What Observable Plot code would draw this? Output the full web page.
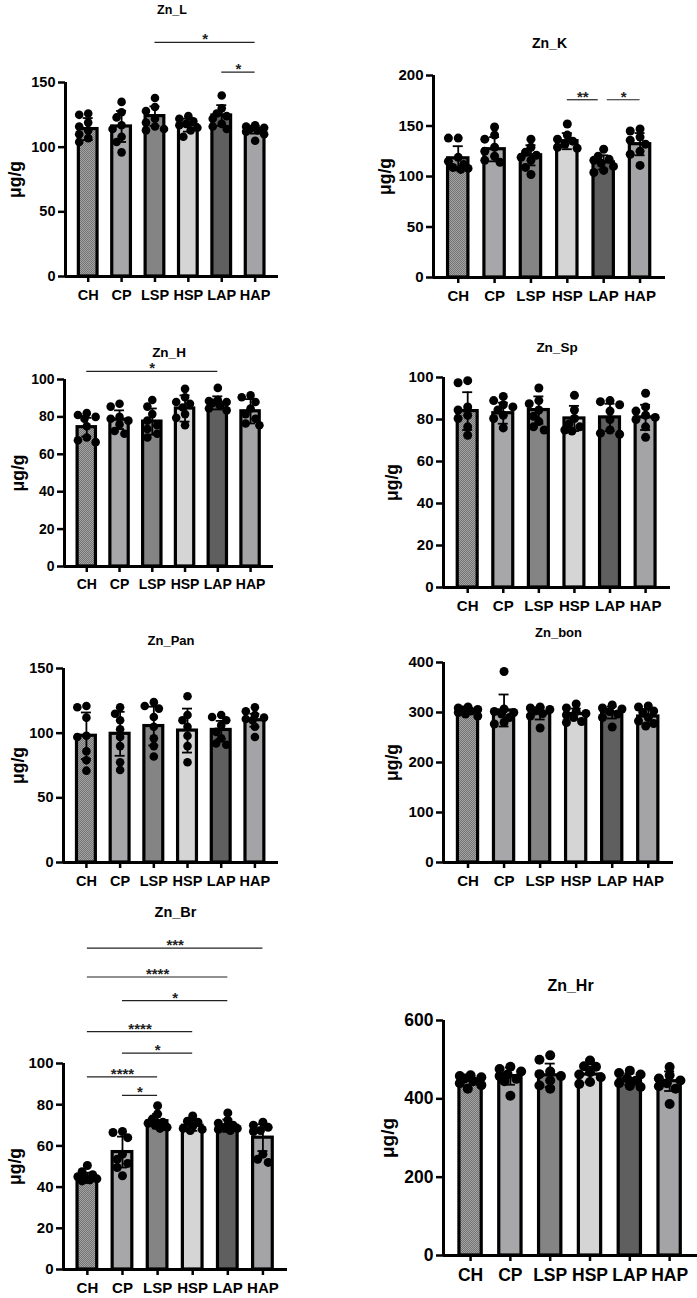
<!DOCTYPE html>
<html><head><meta charset="utf-8">
<script src="https://cdn.jsdelivr.net/npm/d3@7"></script>
<script src="https://cdn.jsdelivr.net/npm/@observablehq/plot@0.6"></script>
<style>
html,body{margin:0;padding:0;background:#fff;}
#root{position:relative;width:697px;height:1298px;overflow:hidden;background:#fff;}
g[aria-label="stars"] text{letter-spacing:2px;}
</style></head><body><div id="root"></div>
<script>
// ---------- data ----------
const groups = ["CH", "CP", "LSP", "HSP", "LAP", "HAP"];
const groupColors = ["PATTERN", "#a7a7aa", "#848484", "#d5d5d5", "#5f5f5f", "#a4a4a7"];
const units = "μg/g";
const titles = ["Zn_L", "Zn_K", "Zn_H", "Zn_Sp", "Zn_Pan", "Zn_bon", "Zn_Br", "Zn_Hr"];

const znL_mean = [114, 116, 124, 117, 124.5, 113.5];
const znL_sd = [8.5, 12, 7.5, 5, 8, 3];
const znL_points = [
  [126, 125, 119, 116, 113, 110, 107, 104],
  [135, 127, 123, 117, 114, 108, 104, 96],
  [138, 131, 128, 122, 119, 116, 114, 113],
  [124, 122, 120, 118, 117, 115, 113, 108],
  [140, 130, 126, 124, 122, 118, 116, 114],
  [117, 116, 115, 114, 113, 112, 110, 105]];
const znL_ticks = [0, 50, 100, 150];
const znL_brackets = [["LSP", "HAP", 181, "*"], ["LAP", "HAP", 158, "*"]];

const znK_mean = [118, 127, 121, 135, 114, 132];
const znK_sd = [12, 12, 10, 8, 7, 11];
const znK_points = [
  [138, 138, 119, 115, 112, 109, 108, 107],
  [149, 141, 137, 129, 125, 120, 116, 114],
  [137, 129, 124, 121, 119, 116, 109, 102],
  [152, 141, 137, 135, 132, 129, 128],
  [127, 120, 117, 116, 113, 110, 106, 104],
  [147, 145, 139, 136, 132, 125, 122, 111]];
const znK_ticks = [0, 50, 100, 150, 200];
const znK_brackets = [["HSP", "LAP", 176, "**"], ["LAP", "HAP", 176, "*"]];

const znH_mean = [74.5, 78.5, 77.5, 84.5, 87.5, 83];
const znH_sd = [5, 5, 7, 7, 3.5, 6.5];
const znH_points = [
  [82, 81, 80, 79, 75, 69, 67.5, 66.5],
  [87, 85.5, 80, 79, 78, 76, 72.5, 71],
  [89, 85.5, 81.5, 78, 75.5, 73.5, 71, 69],
  [95, 90.5, 88, 87, 85, 81.5, 79.5, 75.5],
  [95.5, 89, 88.5, 88, 87.5, 86, 84.5, 83.5],
  [91.5, 90.5, 88, 84.5, 81.5, 79, 76.5, 75.5]];
const znH_ticks = [0, 20, 40, 60, 80, 100];
const znH_brackets = [["CH", "LAP", 104.3, "*"]];

const znSp_mean = [84, 83, 84.5, 80.5, 81, 81];
const znSp_sd = [9, 5, 6.5, 6, 6.5, 6];
const znSp_points = [
  [98.5, 97.5, 86, 84.5, 82, 80.5, 76.5, 72.5],
  [91, 89, 87, 86, 84.5, 82, 80.5, 76],
  [95, 89, 87.5, 84.5, 81.5, 79, 76.5, 75],
  [91.5, 84.5, 80.5, 78, 76.5, 75, 74.5],
  [89, 88.5, 87, 84, 80, 75, 73.5, 73],
  [92.5, 86, 84, 82, 81, 80, 76.5, 71.5]];
const znSp_ticks = [0, 20, 40, 60, 80, 100];
const znSp_brackets = [];

const znPan_mean = [98, 99.5, 105.5, 102, 102.5, 110];
const znPan_sd = [18, 17, 15, 17, 7, 5];
const znPan_points = [
  [121, 120, 112, 98, 97, 86, 79, 71],
  [120, 115, 110, 103, 97, 90, 77.5, 71.5],
  [124, 121, 119, 112.5, 105, 96, 90, 82],
  [128.5, 114, 110, 105, 98, 90, 77.5],
  [114, 112.5, 110, 106, 101, 96, 92, 91],
  [120, 117, 114, 112, 111, 110, 105, 97]];
const znPan_ticks = [0, 50, 100, 150];
const znPan_brackets = [];

const znBon_mean = [302, 304, 298, 297, 300, 292];
const znBon_sd = [4, 32, 12, 11, 12, 14];
const znBon_points = [
  [311, 309, 306, 305, 303, 300, 297, 293],
  [382, 307, 302, 300, 297, 290, 280, 277],
  [311, 309, 306, 303, 298, 293, 269],
  [317, 309, 302, 298, 295, 290, 282, 280],
  [315, 309, 307, 302, 297, 290, 271],
  [313, 311, 303, 300, 290, 283, 278, 273]];
const znBon_ticks = [0, 100, 200, 300, 400];
const znBon_brackets = [];

const znBr_mean = [44.5, 57, 72, 69.8, 69.8, 64];
const znBr_sd = [2.5, 7.5, 3.5, 2.5, 3, 6.5];
const znBr_points = [
  [50.5, 47.5, 46, 45, 44.5, 44, 43.5, 43],
  [67, 66.5, 64, 56, 53.5, 51.5, 49.5, 45.5],
  [79.5, 75.5, 73, 71.5, 71, 70, 69, 68.5],
  [74.5, 72, 71.5, 69.5, 68.5, 68, 67.5],
  [76, 72.5, 71, 70, 69, 68.5, 68, 67.5],
  [71.5, 70, 69, 67.5, 67, 56, 53.5, 52]];
const znBr_ticks = [0, 20, 40, 60, 80, 100];
const znBr_brackets = [
  ["CH", "HAP", 156, "***"], ["CH", "LAP", 142, "****"], ["CP", "LAP", 130.5, "*"],
  ["CH", "HSP", 115.5, "****"], ["CP", "HSP", 105, "*"], ["CH", "LSP", 93.5, "****"], ["CP", "LSP", 84.5, "*"]];

const znHr_mean = [448, 458, 460, 462, 450, 445];
const znHr_sd = [12, 22, 30, 20, 15, 25];
const znHr_points = [
  [460, 458, 455, 452, 445, 440, 435, 426],
  [482, 476, 470, 462, 458, 451, 445, 408],
  [511, 500, 470, 463, 458, 447, 434, 426],
  [498, 483, 482, 468, 462, 455, 443, 438],
  [472, 466, 462, 452, 446, 440, 433, 430],
  [481, 460, 452, 447, 440, 432, 426, 387]];
const znHr_ticks = [0, 200, 400, 600];
const znHr_brackets = [];

const panelData = [
  [znL_mean, znL_sd, znL_points, znL_ticks, znL_brackets],
  [znK_mean, znK_sd, znK_points, znK_ticks, znK_brackets],
  [znH_mean, znH_sd, znH_points, znH_ticks, znH_brackets],
  [znSp_mean, znSp_sd, znSp_points, znSp_ticks, znSp_brackets],
  [znPan_mean, znPan_sd, znPan_points, znPan_ticks, znPan_brackets],
  [znBon_mean, znBon_sd, znBon_points, znBon_ticks, znBon_brackets],
  [znBr_mean, znBr_sd, znBr_points, znBr_ticks, znBr_brackets],
  [znHr_mean, znHr_sd, znHr_points, znHr_ticks, znHr_brackets]];

// ---------- layout (page pixels) ----------
const layout = [
  {box: [0, 0, 348, 305], axisX: 65, right: 278, yTop: 82, y0: 276, titleY: 9, labelX: 15, fs: 14.5, tfs: 12.5, lfs: 17.5, r: 4.3},
  {box: [348, 0, 349, 305], axisX: 433, right: 665, yTop: 75, y0: 277, titleY: 43, labelX: 385, fs: 15, tfs: 14, lfs: 17.5, r: 4.5},
  {box: [0, 305, 348, 320], axisX: 64, right: 273, yTop: 379, y0: 566, titleY: 352, labelX: 18, fs: 14, tfs: 13.5, lfs: 17.5, r: 4.3},
  {box: [348, 305, 349, 320], axisX: 443, right: 670, yTop: 377, y0: 587, titleY: 347, labelX: 392, fs: 15, tfs: 13.5, lfs: 17.5, r: 4.5},
  {box: [0, 625, 348, 270], axisX: 63, right: 278, yTop: 668, y0: 862, titleY: 640, labelX: 18, fs: 14.5, tfs: 13, lfs: 17.5, r: 4.3},
  {box: [348, 625, 349, 270], axisX: 443, right: 673, yTop: 662, y0: 862, titleY: 632, labelX: 392, fs: 15, tfs: 13, lfs: 17.5, r: 4.5},
  {box: [0, 895, 348, 403], axisX: 63, right: 287, yTop: 1063, y0: 1269, titleY: 912, labelX: 15, fs: 15, tfs: 14.5, lfs: 17.5, r: 4.5},
  {box: [348, 895, 349, 403], axisX: 443, right: 697, yTop: 1020, y0: 1255, titleY: 985, labelX: 387, fs: 17.5, tfs: 16, lfs: 19, r: 5}];

const XLO = -0.68, XHI = 5.7, HALF = 0.28;
const FONT = "Arial, 'Liberation Sans', Helvetica, sans-serif";

function swarm(vals, pxY, step, r) {
  const order = d3.range(vals.length).sort((a, b) => vals[b] - vals[a]);
  const cands = [0, -0.15, 0.15, -0.27, 0.27, -0.07, 0.07].map(c => c * step);
  const placed = [], off = new Array(vals.length);
  for (const k of order) {
    const y = vals[k] * pxY;
    let best = 0, bestD = -1;
    for (const c of cands) {
      let md = Infinity;
      for (const p of placed) md = Math.min(md, Math.hypot(p.x - c, p.y - y));
      if (md >= 1.6 * r) { best = c; break; }
      if (md > bestD) { bestD = md; best = c; }
    }
    placed.push({x: best, y});
    off[k] = best / step;
  }
  return off;
}

const root = document.getElementById("root");

panelData.forEach(([mean, sd, points, ticks, brackets], p) => {
  const L = layout[p];
  const [left, top, W, H] = L.box;
  const ymax = ticks[ticks.length - 1];
  const mL = L.axisX - left, mR = left + W - L.right, mT = L.yTop - top, mB = top + H - L.y0;
  const step = (L.right - L.axisX) / (XHI - XLO);
  const pxY = (L.y0 - L.yTop) / ymax;
  const patId = "chpat" + p;

  const bars = groups.map((g, i) => ({i, g, mean: mean[i], sd: sd[i],
    fill: groupColors[i] === "PATTERN" ? `url(#${patId})` : groupColors[i]}));
  const dots = [];
  points.forEach((vals, i) => {
    const off = swarm(vals, pxY, step, L.r);
    vals.forEach((v, k) => dots.push({x: i + off[k], v}));
  });
  const br = brackets.map(([a, b, y, label]) => {
    const x1 = groups.indexOf(a), x2 = groups.indexOf(b);
    return {a: x1, b: x2, x1, x2, y, label};
  });
  br.forEach(d => br.forEach(e => {
    if (d !== e && d.y === e.y && d.b === e.a) { d.x2 = d.b - 0.15; e.x1 = e.a + 0.1; }
  }));
  br.forEach(d => d.mid = (d.x1 + d.x2) / 2);

  const capHalf = 5 / step;
  const svg = Plot.plot({
    width: W, height: H,
    marginLeft: mL, marginRight: mR, marginTop: mT, marginBottom: mB,
    x: {domain: [XLO, XHI]},
    y: {domain: [0, ymax]},
    color: {type: "identity"},
    style: {position: "absolute", left: left + "px", top: top + "px", overflow: "visible",
      background: "transparent", fontFamily: FONT, fontWeight: "bold", color: "black"},
    marks: [
      Plot.rect(bars, {x1: d => d.i - HALF, x2: d => d.i + HALF, y1: 0, y2: "mean",
        fill: "fill", stroke: "black", strokeWidth: 3.2}),
      Plot.dot(dots, {x: "x", y: "v", r: L.r, fill: "black", stroke: "none"}),
      Plot.ruleX(bars, {x: "i", y1: d => d.mean - d.sd, y2: d => d.mean + d.sd, strokeWidth: 1.8, stroke: "black"}),
      Plot.ruleY(bars, {y: d => d.mean + d.sd, x1: d => d.i - capHalf, x2: d => d.i + capHalf, strokeWidth: 1.8, stroke: "black"}),
      Plot.ruleY(bars, {y: d => d.mean - d.sd, x1: d => d.i - capHalf, x2: d => d.i + capHalf, strokeWidth: 1.8, stroke: "black"}),
      Plot.ruleY(br, {y: "y", x1: "x1", x2: "x2", stroke: "#222", strokeWidth: 1.2}),
      Plot.text(br, {x: "mid", y: "y", text: "label", lineAnchor: "bottom", dy: 2, fontSize: 15,
        ariaLabel: "stars", fill: "#222"}),
      Plot.ruleX([XLO], {stroke: "black", strokeWidth: 3}),
      Plot.ruleY([0], {stroke: "black", strokeWidth: 3}),
      Plot.axisY({ticks, tickSize: 7, tickPadding: 3, strokeWidth: 2.5, fontSize: L.fs, label: null,
        tickFormat: d => String(d)}),
      Plot.axisX({ticks: d3.range(groups.length), tickFormat: i => groups[i], tickSize: 6,
        tickPadding: 7, strokeWidth: 2.5, fontSize: L.fs, label: null}),
      Plot.text([titles[p]], {frameAnchor: "top", dy: L.titleY - L.yTop, lineAnchor: "middle",
        textAnchor: "middle", fontSize: L.tfs, fontWeight: "bold"}),
      Plot.text([units], {frameAnchor: "left", dx: L.labelX - L.axisX, rotate: -90, textAnchor: "middle",
        lineAnchor: "middle", fontSize: L.lfs, fontWeight: "bold"})
    ]
  });
  const defs = d3.select(svg).insert("defs", ":first-child");
  const pat = defs.append("pattern").attr("id", patId).attr("patternUnits", "userSpaceOnUse")
    .attr("width", 2).attr("height", 2);
  pat.append("rect").attr("width", 2).attr("height", 2).attr("fill", "#a3a3a3");
  pat.append("rect").attr("width", 1).attr("height", 1).attr("fill", "#747474");
  pat.append("rect").attr("x", 1).attr("y", 1).attr("width", 1).attr("height", 1).attr("fill", "#747474");
  root.appendChild(svg);
});
</script>
</body></html>
